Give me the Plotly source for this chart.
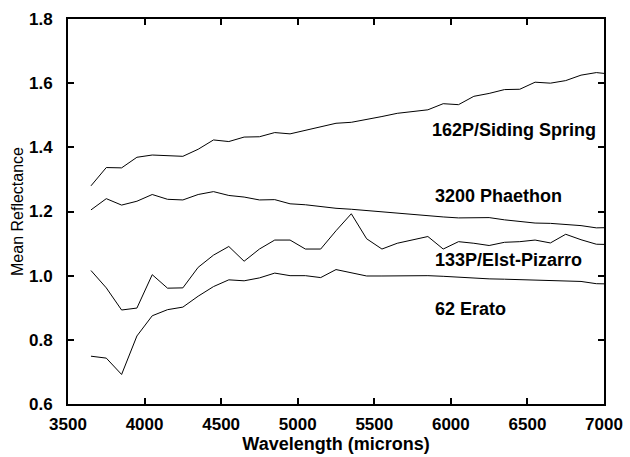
import plotly.graph_objects as go

wavelength = [3650, 3750, 3850, 3950, 4050, 4150, 4250, 4350, 4450, 4550,
              4650, 4750, 4850, 4950, 5050, 5150, 5250, 5350, 5450, 5550,
              5650, 5750, 5850, 5950, 6050, 6150, 6250, 6350, 6450, 6550,
              6650, 6750, 6850, 6950, 7050]

siding_spring = [1.280, 1.337, 1.336, 1.369, 1.376, 1.374, 1.372, 1.394, 1.423, 1.418,
                 1.432, 1.433, 1.446, 1.442, 1.453, 1.466, 1.475, 1.478, 1.486, 1.496,
                 1.506, 1.512, 1.517, 1.536, 1.533, 1.559, 1.568, 1.580, 1.581, 1.603,
                 1.600, 1.608, 1.625, 1.633, 1.628]

phaethon = [1.205, 1.240, 1.220, 1.232, 1.253, 1.238, 1.236, 1.253, 1.262, 1.250,
            1.245, 1.236, 1.237, 1.224, 1.221, 1.215, 1.210, 1.207, 1.203, 1.199,
            1.193, 1.189, 1.187, 1.183, 1.180, 1.180, 1.181, 1.174, 1.169, 1.164,
            1.163, 1.159, 1.156, 1.149, 1.150]

elst_pizarro = [1.016, 0.962, 0.893, 0.899, 1.003, 0.961, 0.962, 1.026, 1.064, 1.091,
                1.045, 1.083, 1.111, 1.111, 1.083, 1.083, 1.140, 1.193, 1.115, 1.083,
                1.101, 1.112, 1.122, 1.083, 1.106, 1.101, 1.094, 1.104, 1.106, 1.111,
                1.102, 1.129, 1.112, 1.098, 1.097]

erato = [0.749, 0.743, 0.692, 0.812, 0.875, 0.894, 0.902, 0.936, 0.966, 0.987,
         0.984, 0.993, 1.008, 1.000, 1.000, 0.994, 1.019, 1.010, 0.999, 0.999,
         1.000, 1.001, 1.000, 0.998, 0.995, 0.992, 0.990, 0.989, 0.988, 0.987,
         0.985, 0.984, 0.982, 0.975, 0.974]

series = [("162P/Siding Spring", siding_spring),
          ("3200 Phaethon", phaethon),
          ("133P/Elst-Pizarro", elst_pizarro),
          ("62 Erato", erato)]

x_ticks = [3500, 4000, 4500, 5000, 5500, 6000, 6500, 7000]
y_ticks = [0.6, 0.8, 1.0, 1.2, 1.4, 1.6, 1.8]

# label positions (data coords)
labels = [("162P/Siding Spring", 6962, 1.455, "right"),
          ("3200 Phaethon", 5885, 1.249, "left"),
          ("133P/Elst-Pizarro", 5885, 1.050, "left"),
          ("62 Erato", 5885, 0.895, "left")]

FONT = "Liberation Sans, Arial, Helvetica, sans-serif"

fig = go.Figure()
for name, vals in series:
    fig.add_trace(go.Scatter(x=wavelength, y=vals, mode="lines", name=name,
                             line=dict(color="black", width=1), showlegend=False))

for text, x, y, anchor in labels:
    fig.add_annotation(x=x, y=y, text=text, showarrow=False, xanchor=anchor,
                       yanchor="middle",
                       font=dict(family=FONT, size=18, color="black", weight="bold"))

axis_common = dict(showline=True, linecolor="black", linewidth=2, mirror="ticks",
                   ticks="inside", ticklen=6, tickwidth=1.5, tickcolor="black",
                   showgrid=False, zeroline=False, automargin=False,
                   tickfont=dict(family=FONT, size=17, color="black", weight="bold"))

fig.update_xaxes(range=[3500, 7000], tickvals=x_ticks, ticklabelstandoff=4,
                 title=dict(text="Wavelength (microns)", standoff=3,
                            font=dict(family=FONT, size=18, color="black", weight="bold")),
                 **axis_common)
fig.update_yaxes(range=[0.6, 1.8], tickvals=y_ticks, ticklabelstandoff=10,
                 tickformat=".1f",
                 title=dict(text="Mean Reflectance", standoff=1,
                            font=dict(family=FONT, size=16, color="black")),
                 **axis_common)

fig.update_layout(width=630, height=457, margin=dict(l=68, r=26, t=19, b=53),
                  plot_bgcolor="white", paper_bgcolor="white")

fig.write_html("out.html", config={"displayModeBar": False},
               post_script="document.body.style.margin='0';document.body.style.overflow='hidden';")
